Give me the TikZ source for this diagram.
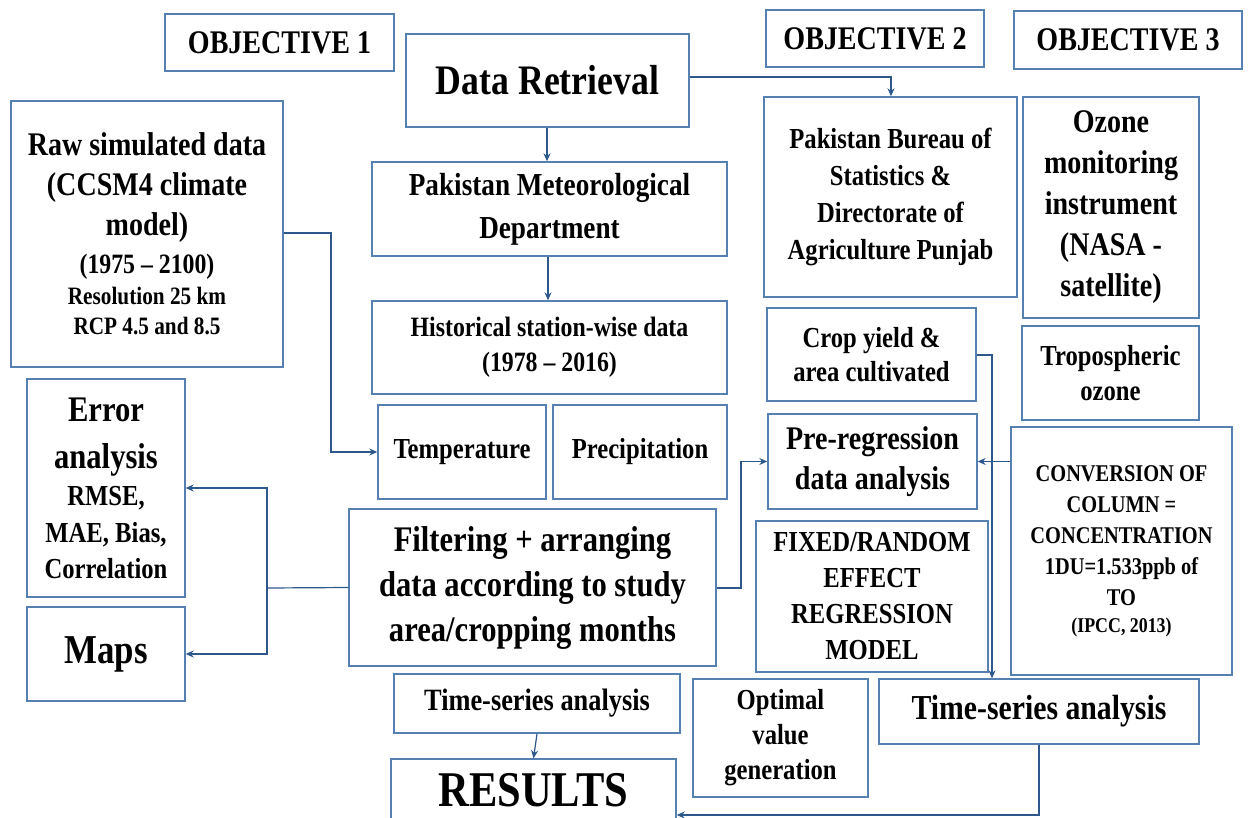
\documentclass[tikz,border=0pt]{standalone}
\usepackage{fontspec}
\usetikzlibrary{arrows.meta}
\newfontfamily\tnr{Liberation Serif}[FakeStretch=0.85,Ligatures=TeX]
\definecolor{boxc}{RGB}{84,128,178}
\definecolor{linec}{RGB}{45,88,140}
\newcommand{\fz}[2]{\fontsize{#1}{#2}\selectfont}
\tikzset{
  box/.style={draw=boxc, line width=1.4pt, align=center, inner sep=0pt, text=black},
  fb/.style 2 args={font=\tnr\bfseries\fontsize{#1}{#2}\selectfont},
  conn/.style={draw=linec, line width=1.2pt},
  arr/.style={conn, -{Stealth[length=8pt,width=7pt]}}
}
% place a box by its corners (x1,y1,x2,y2)
\newcommand{\bx}[6][]{\node[box,#1,minimum width=#4-#2, minimum height=#5-#3] (#6) at ({(#2+#4)/2},{(#3+#5)/2})}
\begin{document}
\begin{tikzpicture}[x=1pt,y=-1pt]
\useasboundingbox (0,0) rectangle (1248,817);
\clip (0,0) rectangle (1248,817);
\fill[white] (0,0) rectangle (1248,817);

\bx[fb={33}{40}]{165}{14}{394}{71}{obj1} {OBJECTIVE 1};
\bx[fb={33}{40}]{766}{10}{984}{67}{obj2} {OBJECTIVE 2};
\bx[fb={33}{40}]{1014}{11}{1242}{69}{obj3} {OBJECTIVE 3};
\bx[fb={42}{50}]{406}{34}{689}{127}{dr} {Data Retrieval};
\bx[fb={33}{40}]{11}{101}{283}{367}{raw} {Raw simulated data\\(CCSM4 climate\\model)\\[-2pt]{\fz{28}{32}(1975 – 2100)}\\[-9pt]{\fz{25}{30}Resolution 25 km}\\[-10pt]{\fz{25}{30}RCP 4.5 and 8.5}};
\bx[fb={32}{43}]{372}{162}{727}{256}{pmd} {Pakistan Meteorological\\Department};
\bx[fb={28}{35}]{372}{301}{727}{394}{hist} {Historical station-wise data\\(1978 – 2016)};
\bx[fb={29}{37}]{764}{97}{1017}{297}{pbs} {Pakistan Bureau of\\Statistics \&\\Directorate of\\Agriculture Punjab};
\bx[fb={33}{41}]{1023}{97}{1199}{318}{ozone} {Ozone\\monitoring\\instrument\\(NASA -\\satellite)};
\bx[fb={29}{34}]{767}{308}{976}{401}{crop} {Crop yield \&\\area cultivated};
\bx[fb={29}{35}]{1022}{326}{1199}{420}{tropo} {Tropospheric\\ozone};
\bx[fb={36}{47}]{27}{379}{185}{597}{err} {Error\\analysis\\[-10pt]{\fz{29}{36}RMSE,}\\[-10pt]{\fz{29}{36}MAE, Bias,}\\[-11pt]{\fz{29}{36}Correlation}};
\bx[fb={41}{48}]{27}{607}{185}{701}{maps} {Maps};
\bx[fb={29}{35}]{378}{405}{546}{499}{temp} {Temperature};
\bx[fb={29}{35}]{553}{405}{727}{499}{prec} {Precipitation};
\bx[fb={36}{45}]{349}{509}{716}{666}{filt} {Filtering + arranging\\data according to study\\area/cropping months};
\bx[fb={31}{37}]{394}{674}{680}{733}{tsl} {Time-series analysis};
\bx[fb={50}{58}]{391}{759}{676}{821}{res} {RESULTS};
\bx[fb={33}{40}]{768}{414}{977}{509}{prereg} {Pre-regression\\data analysis};
\bx[fb={29}{36}]{756}{521}{988}{672}{fixed} {FIXED/RANDOM\\EFFECT\\REGRESSION\\MODEL};
\bx[fb={29}{35}]{693}{679}{868}{797}{opt} {Optimal\\value\\generation};
\bx[fb={35}{42}]{879}{679}{1199}{744}{tsr} {Time-series analysis};
\bx[fb={24}{31}]{1011}{427}{1232}{675}{conv} {CONVERSION OF\\COLUMN =\\CONCENTRATION\\1DU=1.533ppb of\\TO\\[-4pt]{\fz{21}{28}(IPCC, 2013)}};

% connectors
\draw[arr] (dr.south -| 547,0) -- (pmd.north -| 547,0);
\draw[arr] (pmd.south -| 548,0) -- (hist.north -| 548,0);
\coordinate (c1) at (891,77);
\draw[arr] (dr.east |- c1) -- (c1) -- (pbs.north -| c1);
\coordinate (c2) at (331,233);
\draw[arr] (raw.east |- c2) -- (c2) |- (temp.west);
\coordinate (j1) at (267,588);
\draw[conn] (filt.west) -- (j1);
\draw[arr] (j1) |- (err.east);
\draw[arr] (j1) |- (maps.east);
\coordinate (c3) at (741,588);
\draw[arr] (filt.east |- c3) -- (c3) |- (prereg.west);
\draw[arr] (conv.west |- prereg.east) -- (prereg.east);
\coordinate (c4) at (992,355);
\draw[arr] (crop.east |- c4) -- (c4) -- (tsr.north -| c4);
\draw[arr] (tsl.south) -- (res.north);
\coordinate (c5) at (1039,815);
\draw[arr] (tsr.south -| c5) -- (c5) -- (res.east |- c5);
\end{tikzpicture}
\end{document}
